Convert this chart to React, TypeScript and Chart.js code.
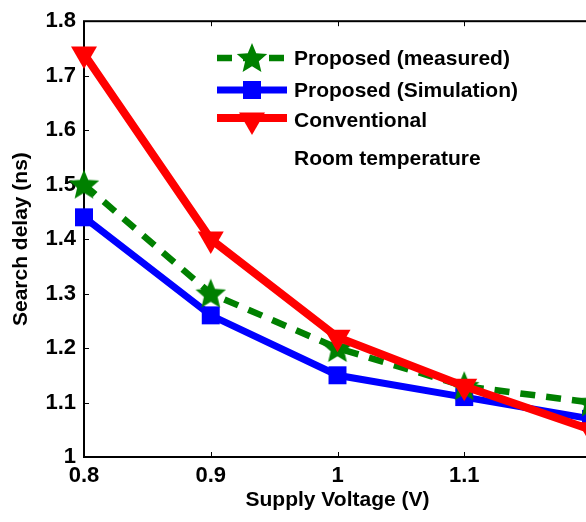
import React, { useEffect, useRef } from "react";
import { Chart, registerables } from "chart.js";

Chart.register(...registerables);

// Supply voltage sweep (V) and search delay (ns) per design
const voltages = [0.8, 0.9, 1.0, 1.1, 1.2];
const measured = [1.5, 1.3, 1.2, 1.13, 1.1];
const simulation = [1.44, 1.26, 1.15, 1.11, 1.07];
const conventional = [1.74, 1.4, 1.22, 1.13, 1.05];

// Labelled ticks (the 1.2 position sits on the right edge and carries no label)
const xTicks = [0.8, 0.9, 1.0, 1.1];
const yTicks = [1.0, 1.1, 1.2, 1.3, 1.4, 1.5, 1.6, 1.7, 1.8];

const seriesNames = ["Proposed (measured)", "Proposed (Simulation)", "Conventional"];
const conditionNote = "Room temperature";
const xTitle = "Supply Voltage (V)";
const yTitle = "Search delay (ns)";

const GREEN = "#008000";
const BLUE = "#0000ff";
const RED = "#ff0000";
const FONT = "'Liberation Sans', Arial, Helvetica, sans-serif";

const fmt = (v: number) => String(Number(v.toFixed(1)));

// Filled five-pointed star used as the marker for the measured series
function makeStar(outer: number, color: string): HTMLCanvasElement {
  const size = Math.ceil(outer * 2 + 2);
  const c = document.createElement("canvas");
  c.width = size;
  c.height = size;
  const g = c.getContext("2d")!;
  const cx = size / 2;
  const cy = size / 2 + 1;
  const inner = outer * 0.45;
  g.fillStyle = color;
  g.beginPath();
  for (let i = 0; i < 10; i++) {
    const r = i % 2 === 0 ? outer : inner;
    const a = -Math.PI / 2 + (i * Math.PI) / 5;
    const px = cx + r * Math.cos(a);
    const py = cy + r * Math.sin(a);
    if (i === 0) g.moveTo(px, py);
    else g.lineTo(px, py);
  }
  g.closePath();
  g.fill();
  return c;
}

export default function App() {
  const canvasRef = useRef<HTMLCanvasElement | null>(null);

  useEffect(() => {
    const canvas = canvasRef.current;
    if (!canvas) return;
    const star = makeStar(16, GREEN);

    const toPoints = (ys: number[]) => voltages.map((x, i) => ({ x, y: ys[i] }));

    // Box around the plot with inward-pointing tick marks
    const framePlugin = {
      id: "frame",
      beforeDatasetsDraw(chart: any) {
        const { ctx, chartArea: a, scales } = chart;
        ctx.save();
        ctx.strokeStyle = "#000";
        ctx.lineWidth = 2;
        ctx.strokeRect(a.left, a.top, a.right - a.left, a.bottom - a.top);
        ctx.lineWidth = 1;
        ctx.beginPath();
        const tl = 5;
        xTicks.forEach((v) => {
          const px = Math.round(scales.x.getPixelForValue(v)) + 0.5;
          ctx.moveTo(px, a.bottom);
          ctx.lineTo(px, a.bottom - tl);
          ctx.moveTo(px, a.top);
          ctx.lineTo(px, a.top + tl);
        });
        yTicks.forEach((v) => {
          const py = Math.round(scales.y.getPixelForValue(v)) + 0.5;
          ctx.moveTo(a.left, py);
          ctx.lineTo(a.left + tl, py);
          ctx.moveTo(a.right, py);
          ctx.lineTo(a.right - tl, py);
        });
        ctx.stroke();
        ctx.restore();
      },
    };

    // Legend drawn inside the plot, upper right
    const legendPlugin = {
      id: "insideLegend",
      afterDraw(chart: any) {
        const { ctx } = chart;
        const x0 = 217;
        const x1 = 287;
        const xm = (x0 + x1) / 2;
        const textX = 294;
        const rows = [58, 90, 120];
        ctx.save();
        ctx.lineCap = "butt";

        // measured: dashed green + star
        ctx.strokeStyle = GREEN;
        ctx.lineWidth = 6.5;
        ctx.setLineDash([15, 11]);
        ctx.beginPath();
        ctx.moveTo(x0, rows[0]);
        ctx.lineTo(x1, rows[0]);
        ctx.stroke();
        ctx.setLineDash([]);
        ctx.drawImage(star, xm - star.width / 2, rows[0] - star.height / 2);

        // simulation: blue + square
        ctx.strokeStyle = BLUE;
        ctx.lineWidth = 7;
        ctx.beginPath();
        ctx.moveTo(x0, rows[1]);
        ctx.lineTo(x1, rows[1]);
        ctx.stroke();
        ctx.fillStyle = BLUE;
        ctx.fillRect(xm - 9, rows[1] - 9, 18, 18);

        // conventional: red + downward triangle
        ctx.strokeStyle = RED;
        ctx.lineWidth = 8;
        ctx.beginPath();
        ctx.moveTo(x0, rows[2] - 2);
        ctx.lineTo(x1, rows[2] - 2);
        ctx.stroke();
        const r = 15;
        ctx.fillStyle = RED;
        ctx.beginPath();
        ctx.moveTo(xm, rows[2] + r);
        ctx.lineTo(xm - r * Math.sin(Math.PI / 3), rows[2] - r / 2);
        ctx.lineTo(xm + r * Math.sin(Math.PI / 3), rows[2] - r / 2);
        ctx.closePath();
        ctx.fill();

        ctx.fillStyle = "#000";
        ctx.font = `bold 21px ${FONT}`;
        ctx.textBaseline = "middle";
        ctx.textAlign = "left";
        seriesNames.forEach((name, i) => ctx.fillText(name, textX, rows[i] + 1));
        ctx.fillText(conditionNote, textX, 159);
        ctx.restore();
      },
    };

    const chart = new Chart(canvas, {
      type: "line",
      data: {
        datasets: [
          {
            label: seriesNames[2],
            data: toPoints(conventional),
            borderColor: RED,
            backgroundColor: RED,
            borderWidth: 8,
            pointStyle: "triangle",
            rotation: 180,
            pointRadius: 15,
            pointBorderWidth: 0,
            order: 0,
            clip: false as any,
          },
          {
            label: seriesNames[0],
            data: toPoints(measured),
            borderColor: GREEN,
            backgroundColor: GREEN,
            borderWidth: 6.5,
            borderDash: [15, 11],
            pointStyle: star as any,
            pointRadius: 16,
            pointBorderWidth: 0,
            order: 1,
            clip: false as any,
          },
          {
            label: seriesNames[1],
            data: toPoints(simulation),
            borderColor: BLUE,
            backgroundColor: BLUE,
            borderWidth: 7,
            pointStyle: "rect",
            pointRadius: 12.7,
            pointBorderWidth: 0,
            order: 2,
            clip: false as any,
          },
        ],
      },
      options: {
        responsive: false,
        animation: false,
        devicePixelRatio: 1,
        layout: { padding: { left: 0, top: 17, right: 29, bottom: 0 } },
        plugins: {
          legend: { display: false },
          tooltip: { enabled: false },
        },
        elements: { line: { tension: 0 } },
        scales: {
          x: {
            type: "linear",
            min: 0.8,
            max: 1.2,
            afterBuildTicks: (s: any) => {
              s.ticks = xTicks.map((value) => ({ value }));
            },
            afterFit: (s: any) => {
              s.height = 65;
            },
            grid: { display: false, drawTicks: false },
            border: { display: false },
            ticks: {
              color: "#000",
              padding: 6,
              maxRotation: 0,
              font: { family: FONT, size: 22, weight: "bold" },
              callback: (v: any) => fmt(Number(v)),
            },
            title: {
              display: true,
              text: xTitle,
              color: "#000",
              padding: { top: 0, bottom: 9 },
              font: { family: FONT, size: 21, weight: "bold" },
            },
          },
          y: {
            type: "linear",
            min: 1.0,
            max: 1.8,
            afterBuildTicks: (s: any) => {
              s.ticks = yTicks.map((value) => ({ value }));
            },
            afterFit: (s: any) => {
              s.width = 84;
            },
            grid: { display: false, drawTicks: false },
            border: { display: false },
            ticks: {
              color: "#000",
              padding: 8,
              font: { family: FONT, size: 22, weight: "bold" },
              callback: (v: any) => fmt(Number(v)),
            },
            title: {
              display: true,
              text: yTitle,
              color: "#000",
              padding: { top: 9, bottom: 0 },
              font: { family: FONT, size: 21, weight: "bold" },
            },
          },
        },
      },
      plugins: [framePlugin, legendPlugin],
    } as any);

    return () => chart.destroy();
  }, []);

  return (
    <div
      style={{
        position: "fixed",
        left: 0,
        top: 0,
        width: 586,
        height: 522,
        overflow: "hidden",
        background: "#fff",
      }}
    >
      <canvas ref={canvasRef} width={620} height={522} style={{ display: "block", width: 620, height: 522 }} />
    </div>
  );
}
